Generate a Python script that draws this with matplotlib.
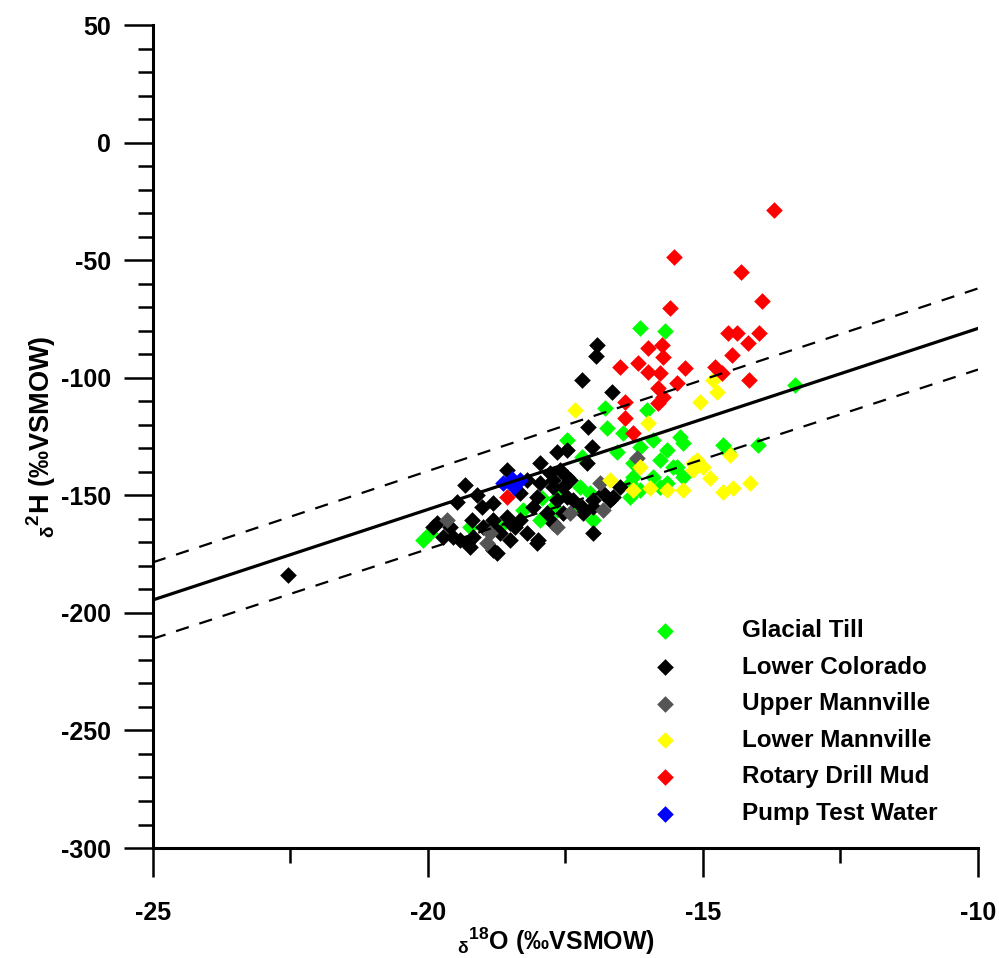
import matplotlib
matplotlib.use("Agg")
import matplotlib.pyplot as plt
from matplotlib.ticker import MultipleLocator

plt.rcParams['font.family'] = ['Liberation Sans', 'DejaVu Sans']
plt.rcParams['font.weight'] = 'bold'
plt.rcParams['axes.unicode_minus'] = False
plt.rcParams['mathtext.fontset'] = 'custom'
plt.rcParams['mathtext.rm'] = 'Liberation Sans:bold'
plt.rcParams['mathtext.bf'] = 'Liberation Sans:bold'
plt.rcParams['mathtext.it'] = 'Liberation Sans:bold'
plt.rcParams['mathtext.default'] = 'bf'

# ---- data (δ18O, δ2H in ‰ VSMOW) ----
glacial_x = [-16.15, -15.69, -13.33, -14.0, -14.64, -14.55, -16.78, -16.02, -16.75, -16.45,
             -17.47, -17.2, -16.56, -16.15, -15.91, -15.65, -15.42, -15.36, -16.27, -15.78,
             -15.55, -16.27, -15.91, -15.65, -15.36, -16.33, -16.15, -15.78, -15.47, -16.33,
             -17.05, -17.24, -17.0, -17.24, -17.73, -17.65, -18.27, -17.96, -18.69, -19.24,
             -19.96, -20.09, -17.93, -17.65]
glacial_y = [-79.0, -80.2, -103.2, -128.7, -128.7, -131.7, -113.0, -113.8, -121.5, -123.6,
             -126.6, -133.8, -131.7, -129.6, -126.6, -130.9, -125.3, -127.9, -136.4, -135.1,
             -138.1, -142.3, -142.3, -144.9, -142.3, -144.9, -147.9, -146.6, -138.1, -150.9,
             -149.1, -146.6, -160.6, -155.1, -155.1, -156.4, -156.4, -160.6, -163.6, -163.6,
             -166.2, -169.1, -151.3, -150.9]

colorado_x = [-22.55, -16.93, -16.95, -17.2, -16.65, -17.09, -17.0, -17.02, -17.65, -17.47,
              -17.96, -18.56, -19.33, -19.47, -19.11, -19.02, -19.2, -19.0, -18.82, -18.69,
              -19.6, -19.73, -19.91, -19.42, -19.24, -18.75, -18.42, -18.09, -18.0, -17.84,
              -17.65, -17.55, -17.36, -17.2, -17.0, -16.82, -16.64, -16.51, -17.47, -17.73,
              -17.96, -18.33, -18.2, -18.82, -17.11, -17.6, -17.42, -17.73, -17.47, -16.69,
              -17.0, -17.18, -17.55, -18.82, -18.56, -18.33, -18.02, -17.78, -19.84, -19.55,
              -19.29, -18.82, -18.51, -18.2, -18.02, -18.51, -19.18, -17.73]
colorado_y = [-184.0, -86.2, -90.9, -101.1, -106.2, -121.1, -166.2, -129.6, -131.7, -130.9,
              -136.4, -139.4, -145.7, -153.0, -150.0, -155.1, -160.6, -163.6, -160.6, -166.2,
              -163.6, -167.9, -163.6, -169.1, -172.1, -174.7, -163.6, -155.1, -169.1, -157.7,
              -152.1, -146.6, -152.1, -155.1, -152.1, -149.1, -150.9, -146.6, -142.3, -143.6,
              -144.9, -149.1, -143.6, -153.4, -136.4, -139.4, -143.6, -146.6, -150.9, -152.1,
              -155.1, -157.7, -157.7, -163.6, -159.4, -160.6, -150.9, -140.6, -161.9, -167.9,
              -170.4, -173.4, -169.1, -166.2, -170.4, -161.9, -167.9, -161.9]

upper_mann_x = [-17.65, -17.42, -16.2, -16.87, -18.87, -19.65, -18.93, -16.82]
upper_mann_y = [-163.6, -157.7, -134.3, -144.9, -166.2, -160.6, -170.4, -156.4]

lower_mann_x = [-17.33, -15.05, -14.75, -14.82, -16.0, -15.18, -15.11, -15.0, -15.18, -14.87,
                -14.51, -14.64, -14.45, -14.15, -16.15, -16.69, -16.27, -15.65, -15.36, -15.96]
lower_mann_y = [-113.8, -110.4, -106.2, -101.1, -119.4, -136.4, -135.1, -138.1, -139.4, -142.8,
                -133.0, -148.7, -147.0, -144.9, -138.1, -143.6, -147.9, -147.9, -147.9, -147.0]

drill_mud_x = [-13.71, -15.53, -14.31, -13.93, -15.6, -14.55, -14.38, -13.98, -14.18, -14.47,
               -14.78, -14.65, -14.16, -16.0, -15.75, -15.73, -16.18, -16.51, -15.33, -15.47,
               -16.0, -15.78, -15.82, -15.73, -15.82, -16.42, -16.42, -16.27, -18.56]
drill_mud_y = [-28.8, -48.8, -55.1, -67.5, -70.5, -81.1, -81.1, -81.1, -85.3, -90.5,
               -95.6, -98.1, -101.1, -87.5, -86.2, -91.3, -93.9, -95.6, -96.0, -102.4,
               -97.7, -98.1, -104.5, -108.3, -110.9, -110.4, -117.2, -123.6, -150.9]

pump_x = [-18.64, -18.47, -18.33, -18.44]
pump_y = [-144.9, -143.2, -143.6, -146.6]

# regression / reference lines (end points)
line_x = [-25.0, -10.0]
line_mid_y = [-194.5, -79.0]
line_upper_y = [-178.5, -62.0]
line_lower_y = [-211.0, -96.5]

series = [
    ("Glacial Till", glacial_x, glacial_y, "#00ff00"),
    ("Lower Colorado", colorado_x, colorado_y, "#000000"),
    ("Upper Mannville", upper_mann_x, upper_mann_y, "#555555"),
    ("Lower Mannville", lower_mann_x, lower_mann_y, "#ffff00"),
    ("Rotary Drill Mud", drill_mud_x, drill_mud_y, "#ff0000"),
    ("Pump Test Water", pump_x, pump_y, "#0000ff"),
]

fig = plt.figure(figsize=(9.99, 9.58), dpi=100)
ax = fig.add_axes([0.153, 0.1148, 0.826, 0.859])

for name, xs, ys, c in series:
    ax.scatter(xs, ys, marker="D", s=72, c=c, linewidths=0, label=name, zorder=2)

ax.plot(line_x, line_mid_y, color="black", lw=2.3, zorder=3)
ax.plot(line_x, line_upper_y, color="black", lw=1.6, ls=(0, (6, 5)), zorder=3)
ax.plot(line_x, line_lower_y, color="black", lw=1.6, ls=(0, (6, 5)), zorder=3)

ax.set_xlim(-25, -10)
ax.set_ylim(-300, 50)
ax.xaxis.set_major_locator(MultipleLocator(5))
ax.xaxis.set_minor_locator(MultipleLocator(2.5))
ax.yaxis.set_major_locator(MultipleLocator(50))
ax.yaxis.set_minor_locator(MultipleLocator(10))

for s in ("top", "right"):
    ax.spines[s].set_visible(False)
for s in ("left", "bottom"):
    ax.spines[s].set_linewidth(2.2)

ax.tick_params(axis="both", which="major", direction="out", length=21, width=1.8,
               labelsize=18)
ax.tick_params(axis="both", which="minor", direction="out", length=11, width=1.8)
ax.tick_params(axis="y", which="major", pad=9)
ax.tick_params(axis="x", which="major", pad=17)
for lab in ax.get_xticklabels() + ax.get_yticklabels():
    lab.set_fontweight("bold")

ax.set_xlabel(r"$_{\delta}$$^{18}$O (‰VSMOW)", fontsize=18, fontweight="bold")
ax.xaxis.set_label_coords(0.488, -0.094)
ax.set_ylabel(r"$_{\delta}$$^{2}$H (‰VSMOW)", fontsize=19.5, fontweight="bold", labelpad=2)

leg = ax.legend(loc="upper left", bbox_to_anchor=(655 / 999, 1 - 619 / 958),
                bbox_transform=fig.transFigure, frameon=False, fontsize=17.5,
                handlelength=0.8, handletextpad=2.8, labelspacing=0.56,
                borderpad=0, borderaxespad=0, scatterpoints=1)
for t in leg.get_texts():
    t.set_fontweight("bold")

fig.savefig("out.png", dpi=100)
